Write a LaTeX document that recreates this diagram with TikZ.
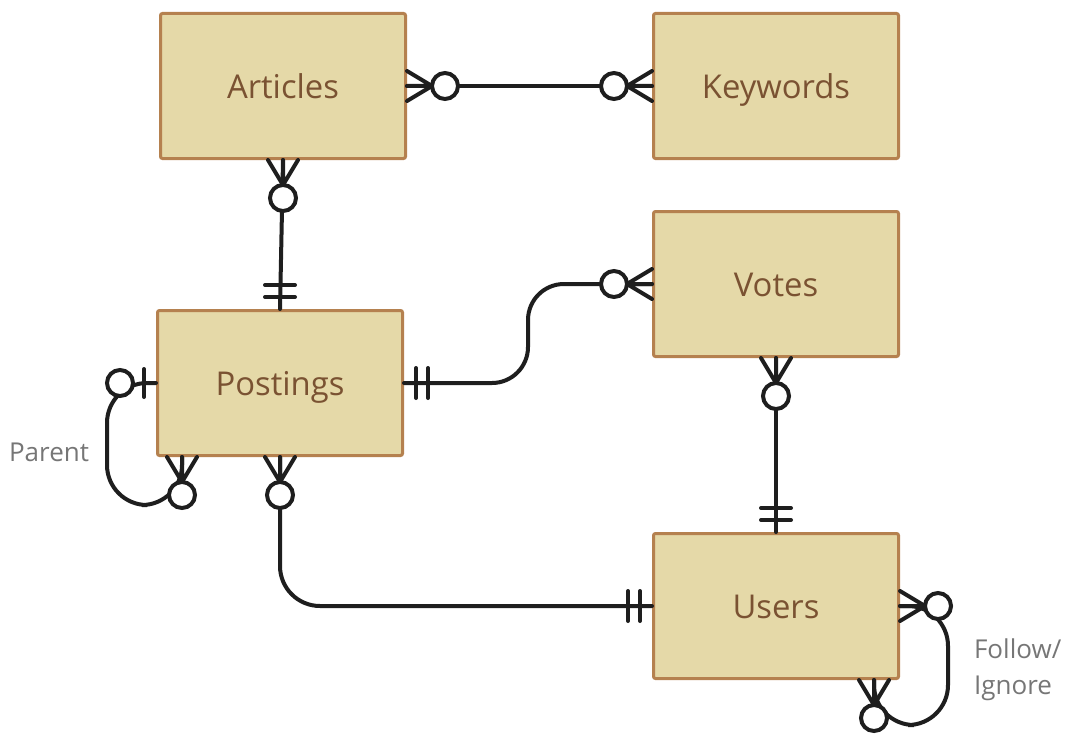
\documentclass[tikz,border=0pt]{standalone}
\usepackage{fontspec}
\setmainfont{Open Sans}
\usetikzlibrary{positioning,calc}

\definecolor{entfill}{HTML}{E5D9A8}
\definecolor{entline}{HTML}{B5814F}
\definecolor{enttext}{HTML}{7A5232}
\definecolor{linkcol}{HTML}{1E1E1E}
\definecolor{notecol}{HTML}{767676}

\tikzset{
  entity/.style={draw=entline, line width=1.5pt, fill=entfill, rounded corners=1pt,
    minimum width=122.5pt, minimum height=72.5pt, inner sep=0pt,
    text height=12.4pt, text depth=0pt,
    text=enttext, font=\fontsize{16.4}{19}\selectfont},
  link/.style={draw=linkcol, line width=2pt, line cap=round},
  note/.style={text=notecol, font=\fontsize{13}{18}\selectfont, align=left},
  % crow's foot ends, drawn pointing away from the entity
  zero many/.pic={
    \draw[link] (0,-15) -- (25,0) -- (0,15) (0,0) -- (25,0);
    \draw[link, fill=white] (38,0) circle[radius=13];
  },
  one only/.pic={
    \draw[link] (12,-15) -- (12,15) (24,-15) -- (24,15);
  },
  zero one/.pic={
    \draw[link] (12,-14) -- (12,14);
    \draw[link, fill=white] (36,0) circle[radius=13];
  }
}

\begin{document}
\begin{tikzpicture}[x=0.5pt, y=-0.5pt]
  \useasboundingbox (0,0) rectangle (1070,733);

  % entities
  \node[entity] (art) at (283,86)  {Articles};
  \node[entity] (key) at (776,86)  {Keywords};
  \node[entity] (vot) at (776,284) {Votes};
  \node[entity] (post) at (280,383) {Postings};
  \node[entity] (usr) at (776,606) {Users};

  % bends and feet of the routed connectors
  \coordinate (pv) at ($(post.east)!.5!(vot.west)$);
  \coordinate (pfoot) at ($(post.south west)+(26,0)$);
  \coordinate (ufoot) at ($(usr.south west)+(222,0)$);
  \coordinate (ploop) at ($(post.west)+(-49,122)$);
  \coordinate (uloop) at ($(usr.east)+(48,119)$);

  % connectors
  \draw[link] (art.east) -- (key.west);
  \draw[link] (art.south) -- (post.north);
  \draw[link, rounded corners=18] (post.east) -| (pv |- vot.west) -- (vot.west);
  \draw[link] (vot.south) -- (usr.north);
  \draw[link, rounded corners=20] (post.south) |- (usr.west);
  \draw[link, rounded corners=20] (post.west) -| (ploop) -| (pfoot);
  \draw[link, rounded corners=20] (usr.east) -| (uloop) -| (ufoot);

  % cardinality ends
  \pic at (art.east) {zero many};
  \pic[rotate=180] at (key.west) {zero many};
  \pic[rotate=-90] at (art.south) {zero many};
  \pic[rotate=90] at (post.north) {one only};
  \pic at (post.east) {one only};
  \pic[rotate=180] at (vot.west) {zero many};
  \pic[rotate=-90] at (vot.south) {zero many};
  \pic[rotate=90] at (usr.north) {one only};
  \pic[rotate=-90] at (post.south) {zero many};
  \pic[rotate=180] at (usr.west) {one only};
  \pic[rotate=180] at (post.west) {zero one};
  \pic[rotate=-90] at (pfoot) {zero many};
  \pic at (usr.east) {zero many};
  \pic[rotate=-90] at (ufoot) {zero many};

  % relation notes
  \node[note, anchor=west] (parent) at (2,452) {Parent};
  \node[note, anchor=north west] (follow) at (967,632) {Follow/\\Ignore};
\end{tikzpicture}
\end{document}
